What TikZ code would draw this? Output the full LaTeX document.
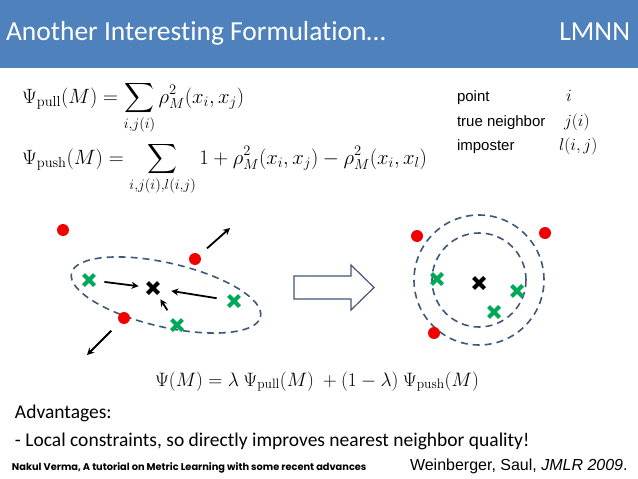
\RequirePackage{fix-cm}
\documentclass[tikz,border=0pt]{standalone}
\usepackage[no-math]{fontspec}
\usepackage{exscale}
\setmainfont{Carlito}[Ligatures=NoCommon]
\newfontfamily\arialfont{Liberation Sans}
\newfontfamily\gothicfont{Poppins}
\usetikzlibrary{shapes.misc,arrows.meta}
\definecolor{titleblue}{HTML}{4F81BD}
\definecolor{dotred}{HTML}{F20000}
\definecolor{crossgreen}{HTML}{00A859}
\definecolor{dashblue}{HTML}{3E5878}
\begin{document}
\begin{tikzpicture}[x=1pt,y=-1pt,
  every node/.style = {inner sep=0pt, outer sep=0pt},
  imposter/.style = {circle, fill=dotred, minimum size=12pt},
  neighbor/.style = {cross out, draw=crossgreen, line width=4pt, minimum size=11pt},
  target/.style = {cross out, draw=black, line width=4pt, minimum size=11pt},
  push/.style = {-{Stealth[length=7pt,width=7pt]}, line width=1.8pt},
  boundary/.style = {draw=dashblue, line width=1.6pt, dash pattern=on 7pt off 5pt},
  legend/.style = {anchor=base west, font=\arialfont\fontsize{15}{18}\selectfont},
  sym/.style = {anchor=base west, font=\fontsize{17}{20}\selectfont},
  formula/.style = {anchor=base west, font=\fontsize{20.7}{24}\selectfont}]
 \useasboundingbox (0,0) rectangle (638,479);
 \fill[white] (0,0) rectangle (638,479);
 \fill[titleblue] (0,0) rectangle (638,68);
 \node[anchor=base west, text=white, font=\fontsize{27.5}{32}\selectfont] (title) at (6,41)
   {Another Interesting Formulation…};
 \node[anchor=base east, text=white, font=\fontsize{27.5}{32}\selectfont] (method) at (630,41) {LMNN};
 % the two terms
 \node[formula] (pull) at (22,103)
   {$\displaystyle \Psi_{\mathrm{pull}}(M) = \sum_{i,j(i)} \rho_M^2(x_i,x_j)$};
 \node[formula] (pushterm) at (22,164)
   {$\displaystyle \Psi_{\mathrm{push}}(M) = \sum_{i,j(i),l(i,j)} 1 + \rho_M^2(x_i,x_j) - \rho_M^2(x_i,x_l)$};
 % legend
 \node[legend] (lpoint) at (457,101) {point};
 \node[legend] (ltrue) at (457,126) {true neighbor};
 \node[legend] (limp) at (457,150) {imposter};
 \node[sym] (spoint) at (566,101) {$i$};
 \node[sym] (strue) at (564,126) {$j(i)$};
 \node[sym] (simp) at (559,150) {$l(i,j)$};
 % before
 \draw[boundary, rotate around={-13:(166,295)}] (166,295) ellipse [x radius=97pt, y radius=32pt];
 \node[imposter] (a1) at (63,230) {};
 \node[imposter] (a2) at (195,259) {};
 \node[imposter] (a3) at (124,318) {};
 \node[neighbor] (n1) at (89,280) {};
 \node[neighbor] (n2) at (234,301) {};
 \node[neighbor] (n3) at (177,325) {};
 \node[target] (x0) at (153,288) {};
 \coordinate (a2out) at (230,228);
 \coordinate (a3out) at (87,355);
 \draw[push, shorten <=10pt] (a2) -- (a2out);
 \draw[push, shorten <=12pt] (a3) -- (a3out);
 \draw[push, shorten <=10pt, shorten >=9pt] (n1) -- (x0);
 \draw[push, shorten <=12pt, shorten >=13pt] (n2) -- (x0);
 \draw[push, shorten <=11pt, shorten >=7pt] (n3) -- (x0);
 % arrow
 \draw[draw=dashblue, line width=1.2pt, fill=white]
   (294,276) -- (351,276) -- (351,265) -- (374,287.5) -- (351,310) -- (351,299) -- (294,299) -- cycle;
 % after
 \draw[boundary] (479,280) circle [radius=65pt];
 \draw[boundary] (479,280) circle [radius=47pt];
 \node[imposter] (b1) at (417,236) {};
 \node[imposter] (b2) at (545,233) {};
 \node[imposter] (b3) at (434,333) {};
 \node[neighbor] (m1) at (437,279) {};
 \node[neighbor] (m2) at (517,291) {};
 \node[neighbor] (m3) at (494,312) {};
 \node[target] (y0) at (479,283) {};
 % objective
 \node[formula, font=\fontsize{19.4}{23}\selectfont] (total) at (155,386)
   {$\Psi(M) = \lambda\ \Psi_{\mathrm{pull}}(M)\ + (1-\lambda)\ \Psi_{\mathrm{push}}(M)$};
 \node[anchor=base west, font=\fontsize{19.5}{23}\selectfont] (adv) at (15,418) {Advantages:};
 \node[anchor=base west, font=\fontsize{19.5}{23}\selectfont] (local) at (15,446)
   {- Local constraints, so directly improves nearest neighbor quality!};
 \node[anchor=base west, font=\gothicfont\bfseries\fontsize{9.8}{11}\selectfont] (credit) at (12,470)
   {Nakul Verma, A tutorial on Metric Learning with some recent advances};
 \node[anchor=base west, font=\arialfont\fontsize{16}{19}\selectfont] (cite) at (410,470)
   {Weinberger, Saul, \textit{JMLR 2009}.};
\end{tikzpicture}
\end{document}
